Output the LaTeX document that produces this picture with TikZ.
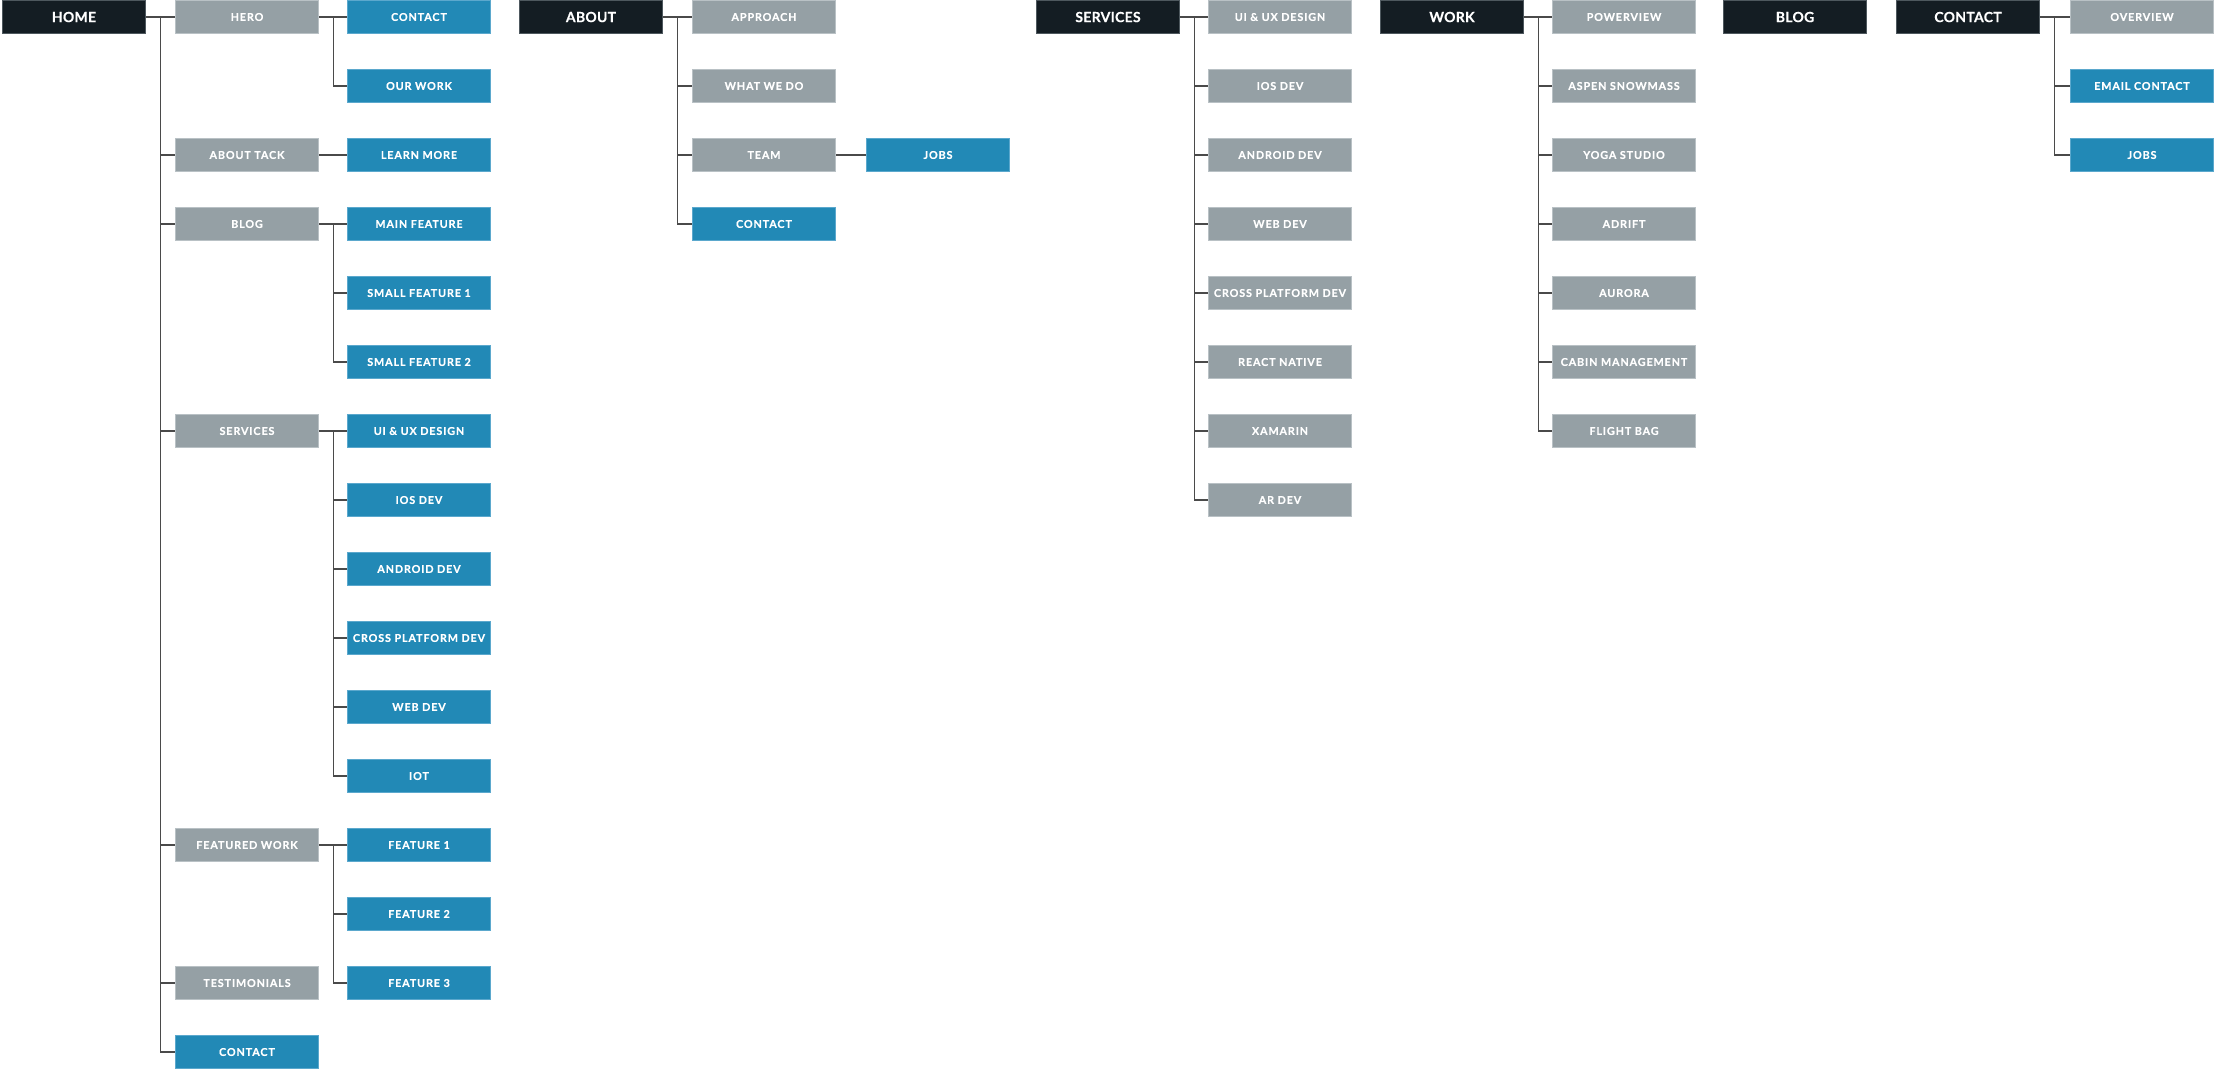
\documentclass[tikz,border=0pt]{standalone}
\usepackage{fontspec}
\setmainfont{Lato}
\newfontfamily\navfont{Lato}[LetterSpace=8,BoldFeatures={FakeBold=0.4}]
\newfontfamily\pagefont{Lato}[LetterSpace=2,BoldFeatures={FakeBold=0.3}]
\definecolor{navdark}{HTML}{141D23}
\definecolor{navdarkedge}{HTML}{4E585E}
\definecolor{navgray}{HTML}{95A0A5}
\definecolor{navgrayedge}{HTML}{B9C1C5}
\definecolor{navblue}{HTML}{2289B6}
\definecolor{navblueedge}{HTML}{5BA8CD}
\definecolor{navline}{HTML}{4A4A4A}

\begin{document}
\begin{tikzpicture}[x=1pt,y=-1pt]
              \tikzstyle{every node}=[rectangle,minimum width=143pt,minimum height=33pt,inner sep=0pt,text=white,line width=1pt];
              \tikzstyle{pagebox}=[fill=navdark,draw=navdarkedge,font=\pagefont\bfseries\fontsize{14}{16}\selectfont,text depth=-2pt];
              \tikzstyle{sectbox}=[fill=navgray,draw=navgrayedge,font=\navfont\bfseries\fontsize{10.8}{12}\selectfont];
              \tikzstyle{linkbox}=[fill=navblue,draw=navblueedge,font=\navfont\bfseries\fontsize{10.8}{12}\selectfont];
              \tikzstyle{branch}=[draw=navline,line width=1.3pt];
                \useasboundingbox (0,0) rectangle (2226,1071);

                % home
                \node[pagebox] at (74,17)   (home) {HOME};
                \node[sectbox] at (247,17)   (hero) {HERO};
                \node[sectbox] at (247,155)  (tack) {ABOUT TACK};
                \node[sectbox] at (247,224)  (blog) {BLOG};
                \node[sectbox] at (247,431)  (serv) {SERVICES};
                \node[sectbox] at (247,845)  (feat) {FEATURED WORK};
                \node[sectbox] at (247,983)  (test) {TESTIMONIALS};
                \node[linkbox] at (247,1052) (cont) {CONTACT};

                \node[linkbox] at (419,17)   (hero1) {CONTACT};
                \node[linkbox] at (419,86)   (hero2) {OUR WORK};
                \node[linkbox] at (419,155)  (tack1) {LEARN MORE};
                \node[linkbox] at (419,224)  (blog1) {MAIN FEATURE};
                \node[linkbox] at (419,293)  (blog2) {SMALL FEATURE 1};
                \node[linkbox] at (419,362)  (blog3) {SMALL FEATURE 2};
                \node[linkbox] at (419,431)  (serv1) {UI \& UX DESIGN};
                \node[linkbox] at (419,500)  (serv2) {IOS DEV};
                \node[linkbox] at (419,569)  (serv3) {ANDROID DEV};
                \node[linkbox] at (419,638)  (serv4) {CROSS PLATFORM DEV};
                \node[linkbox] at (419,707)  (serv5) {WEB DEV};
                \node[linkbox] at (419,776)  (serv6) {IOT};
                \node[linkbox] at (419,845)  (feat1) {FEATURE 1};
                \node[linkbox] at (419,914)  (feat2) {FEATURE 2};
                \node[linkbox] at (419,983)  (feat3) {FEATURE 3};

                % about
                \node[pagebox] at (591,17)  (about) {ABOUT};
                \node[sectbox] at (764,17)  (about1) {APPROACH};
                \node[sectbox] at (764,86)  (about2) {WHAT WE DO};
                \node[sectbox] at (764,155) (about3) {TEAM};
                \node[linkbox] at (764,224) (about4) {CONTACT};
                \node[linkbox] at (938,155) (team1) {JOBS};

                % services
                \node[pagebox] at (1108,17)  (services) {SERVICES};
                \node[sectbox] at (1280,17)  (services1) {UI \& UX DESIGN};
                \node[sectbox] at (1280,86)  (services2) {IOS DEV};
                \node[sectbox] at (1280,155) (services3) {ANDROID DEV};
                \node[sectbox] at (1280,224) (services4) {WEB DEV};
                \node[sectbox] at (1280,293) (services5) {CROSS PLATFORM DEV};
                \node[sectbox] at (1280,362) (services6) {REACT NATIVE};
                \node[sectbox] at (1280,431) (services7) {XAMARIN};
                \node[sectbox] at (1280,500) (services8) {AR DEV};

                % work
                \node[pagebox] at (1452,17)  (work) {WORK};
                \node[sectbox] at (1624,17)  (work1) {POWERVIEW};
                \node[sectbox] at (1624,86)  (work2) {ASPEN SNOWMASS};
                \node[sectbox] at (1624,155) (work3) {YOGA STUDIO};
                \node[sectbox] at (1624,224) (work4) {ADRIFT};
                \node[sectbox] at (1624,293) (work5) {AURORA};
                \node[sectbox] at (1624,362) (work6) {CABIN MANAGEMENT};
                \node[sectbox] at (1624,431) (work7) {FLIGHT BAG};

                % blog, contact
                \node[pagebox] at (1795,17) (blogpage) {BLOG};
                \node[pagebox] at (1968,17) (contact) {CONTACT};
                \node[sectbox] at (2142,17)  (contact1) {OVERVIEW};
                \node[linkbox] at (2142,86)  (contact2) {EMAIL CONTACT};
                \node[linkbox] at (2142,155) (contact3) {JOBS};

                % branches
                \path[branch] (home.east) -- ++(14.5,0) |- (hero.west);
                \path[branch] (home.east) -- ++(14.5,0) |- (tack.west);
                \path[branch] (home.east) -- ++(14.5,0) |- (blog.west);
                \path[branch] (home.east) -- ++(14.5,0) |- (serv.west);
                \path[branch] (home.east) -- ++(14.5,0) |- (feat.west);
                \path[branch] (home.east) -- ++(14.5,0) |- (test.west);
                \path[branch] (home.east) -- ++(14.5,0) |- (cont.west);

                \path[branch] (hero.east) -- ++(14.5,0) |- (hero1.west);
                \path[branch] (hero.east) -- ++(14.5,0) |- (hero2.west);
                \path[branch] (tack.east) -- (tack1.west);
                \path[branch] (blog.east) -- ++(14.5,0) |- (blog1.west);
                \path[branch] (blog.east) -- ++(14.5,0) |- (blog2.west);
                \path[branch] (blog.east) -- ++(14.5,0) |- (blog3.west);
                \path[branch] (serv.east) -- ++(14.5,0) |- (serv1.west);
                \path[branch] (serv.east) -- ++(14.5,0) |- (serv2.west);
                \path[branch] (serv.east) -- ++(14.5,0) |- (serv3.west);
                \path[branch] (serv.east) -- ++(14.5,0) |- (serv4.west);
                \path[branch] (serv.east) -- ++(14.5,0) |- (serv5.west);
                \path[branch] (serv.east) -- ++(14.5,0) |- (serv6.west);
                \path[branch] (feat.east) -- ++(14.5,0) |- (feat1.west);
                \path[branch] (feat.east) -- ++(14.5,0) |- (feat2.west);
                \path[branch] (feat.east) -- ++(14.5,0) |- (feat3.west);

                \path[branch] (about.east) -- ++(14.5,0) |- (about1.west);
                \path[branch] (about.east) -- ++(14.5,0) |- (about2.west);
                \path[branch] (about.east) -- ++(14.5,0) |- (about3.west);
                \path[branch] (about.east) -- ++(14.5,0) |- (about4.west);
                \path[branch] (about3.east) -- (team1.west);

                \path[branch] (services.east) -- ++(14.5,0) |- (services1.west);
                \path[branch] (services.east) -- ++(14.5,0) |- (services2.west);
                \path[branch] (services.east) -- ++(14.5,0) |- (services3.west);
                \path[branch] (services.east) -- ++(14.5,0) |- (services4.west);
                \path[branch] (services.east) -- ++(14.5,0) |- (services5.west);
                \path[branch] (services.east) -- ++(14.5,0) |- (services6.west);
                \path[branch] (services.east) -- ++(14.5,0) |- (services7.west);
                \path[branch] (services.east) -- ++(14.5,0) |- (services8.west);

                \path[branch] (work.east) -- ++(14.5,0) |- (work1.west);
                \path[branch] (work.east) -- ++(14.5,0) |- (work2.west);
                \path[branch] (work.east) -- ++(14.5,0) |- (work3.west);
                \path[branch] (work.east) -- ++(14.5,0) |- (work4.west);
                \path[branch] (work.east) -- ++(14.5,0) |- (work5.west);
                \path[branch] (work.east) -- ++(14.5,0) |- (work6.west);
                \path[branch] (work.east) -- ++(14.5,0) |- (work7.west);

                \path[branch] (contact.east) -- ++(14.5,0) |- (contact1.west);
                \path[branch] (contact.east) -- ++(14.5,0) |- (contact2.west);
                \path[branch] (contact.east) -- ++(14.5,0) |- (contact3.west);
            \end{tikzpicture}
\end{document}
